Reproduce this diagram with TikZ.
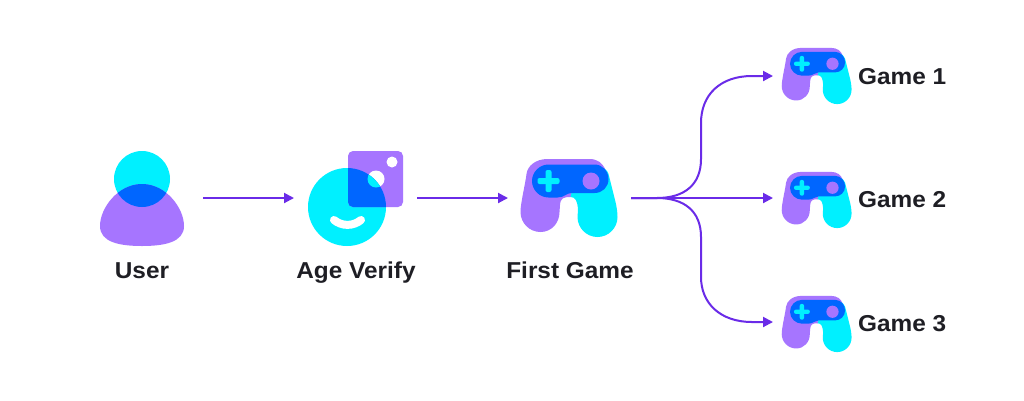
\documentclass[tikz,border=0pt]{standalone}
\usepackage{fontspec}
\setmainfont[FakeStretch=1.06]{Liberation Sans}
\usetikzlibrary{arrows.meta}
\definecolor{padpurple}{HTML}{A675FF}
\definecolor{padcyan}{HTML}{00F0FF}
\definecolor{padblue}{HTML}{0066FF}
\definecolor{flowcol}{HTML}{6A2BE8}
\definecolor{textcol}{HTML}{1E1E24}
\tikzset{
	flow/.style={line width=2pt, flowcol, -{Triangle[length=10pt,width=10pt]}},
	anchorbox/.style={inner sep=0pt, outer sep=0pt, minimum height=40pt},
	label/.style={anchor=base, inner sep=0pt, font=\fontsize{23}{23}\selectfont\bfseries, text=textcol},
	gamepad/.pic={
		\fill[padpurple] (1,-1) .. controls (-6,-1) and (-9,0) .. (-9.5,7) -- (-10,14) .. controls (-10,25) and (-18,34) .. (-29,34) .. controls (-40,34) and (-49,25) .. (-49,14) .. controls (-49,5) and (-44,-15) .. (-43,-24) .. controls (-42,-32) and (-34,-39) .. (-22,-39) -- (20,-39) .. controls (28,-39) and (33,-35) .. (36,-28) -- cycle;
		\fill[padcyan] (2,-5) -- (30,-31) .. controls (36,-30) and (38,-27) .. (39,-24) -- (46,4) .. controls (47,8) and (48,14) .. (48,19) .. controls (48,30) and (39,39) .. (28,39) .. controls (17,39) and (8,30) .. (8,19) -- (8.5,12) .. controls (8,3) and (6,-1) .. (1,-1) -- cycle;
		\fill[padblue] (-21,-33.5) -- (25,-33.5) .. controls (33,-33.5) and (39,-27) .. (39,-19) .. controls (39,-11) and (33,-5) .. (25,-5) -- (2,-5) .. controls (-3,-5) and (-5,-0.5) .. (-12,-0.5) -- (-21,-0.5) .. controls (-30,-0.5) and (-37.5,-8) .. (-37.5,-17) .. controls (-37.5,-26) and (-30,-33.5) .. (-21,-33.5) -- cycle;
		\fill[padpurple] (21.5,-17) circle[radius=8.5];
		\fill[padcyan, rounded corners=2pt] (-32,-20) rectangle (-10,-14);
		\fill[padcyan, rounded corners=2pt] (-24,-28) rectangle (-18,-6);
	}
}
\begin{document}
\begin{tikzpicture}[x=1pt,y=-1pt]
	\useasboundingbox[fill=white] (0,0) rectangle (1024,400);
	% icons only fix the ends of the arrows
	\node[anchorbox, minimum width=122pt] (user) at (142,198) {};
	\node[anchorbox, minimum width=123pt] (age) at (355.5,198) {};
	\node[anchorbox, minimum width=123pt] (first) at (569.5,198) {};
	\node[anchorbox, minimum width=88pt] (game1) at (817,76) {};
	\node[anchorbox, minimum width=88pt] (game2) at (817,198) {};
	\node[anchorbox, minimum width=88pt] (game3) at (817,322) {};
	% user
	\fill[padcyan] (142,179) circle[radius=28];
	\path[fill=padpurple] (142,184) .. controls (166,184) and (184,208) .. (184,226) .. controls (184,242) and (165,246) .. (142,246) .. controls (119,246) and (100,242) .. (100,226) .. controls (100,208) and (118,184) .. (142,184) -- cycle;
	\begin{scope}
		\clip (142,179) circle[radius=28];
		\fill[padblue] (142,184) .. controls (166,184) and (184,208) .. (184,226) -- (100,226) .. controls (100,208) and (118,184) .. (142,184) -- cycle;
	\end{scope}
	% age check
	\fill[padcyan] (347,207) circle[radius=39];
	\fill[padpurple, rounded corners=5pt] (348,151) rectangle (403,207);
	\fill[white] (392,162) circle[radius=5.5];
	\fill[white] (376,179) circle[radius=8.5];
	\begin{scope}
		\clip (347,207) circle[radius=39];
		\fill[padblue, rounded corners=5pt] (348,151) rectangle (403,207);
		\fill[padcyan] (376,179) circle[radius=8.5];
	\end{scope}
	\draw[white, line width=8pt, line cap=round] (334,220) .. controls (342,226.5) and (353,226.5) .. (361,220);
	% game pads
	\pic at (first.center) {gamepad};
	\pic[scale=0.72] at (817,76) {gamepad};
	\pic[scale=0.72] at (817,200) {gamepad};
	\pic[scale=0.72] at (817,324) {gamepad};
	% labels
	\node[label] (userlab) at (142,278) {User};
	\node[label] (agelab) at (356,278) {Age Verify};
	\node[label] (firstlab) at (570,278) {First Game};
	\node[label, anchor=base west] (lab1) at (858,84) {Game 1};
	\node[label, anchor=base west] (lab2) at (858,207) {Game 2};
	\node[label, anchor=base west] (lab3) at (858,331) {Game 3};
	% arrows
	\draw[flow] (user.east) -- (age.west);
	\draw[flow] (age.east) -- (first.west);
	\draw[flow] (first.east) -- (game2.west);
	\draw[flow] (first.east) -- (657,198) .. controls (684,198) and (701,185) .. (701,159) -- (701,123) .. controls (701,95) and (720,76) .. (752,76) -- (game1.west);
	\draw[flow] (first.east) -- (657,198) .. controls (684,198) and (701,211) .. (701,237) -- (701,277) .. controls (701,303) and (720,322) .. (752,322) -- (game3.west);
\end{tikzpicture}
\end{document}
